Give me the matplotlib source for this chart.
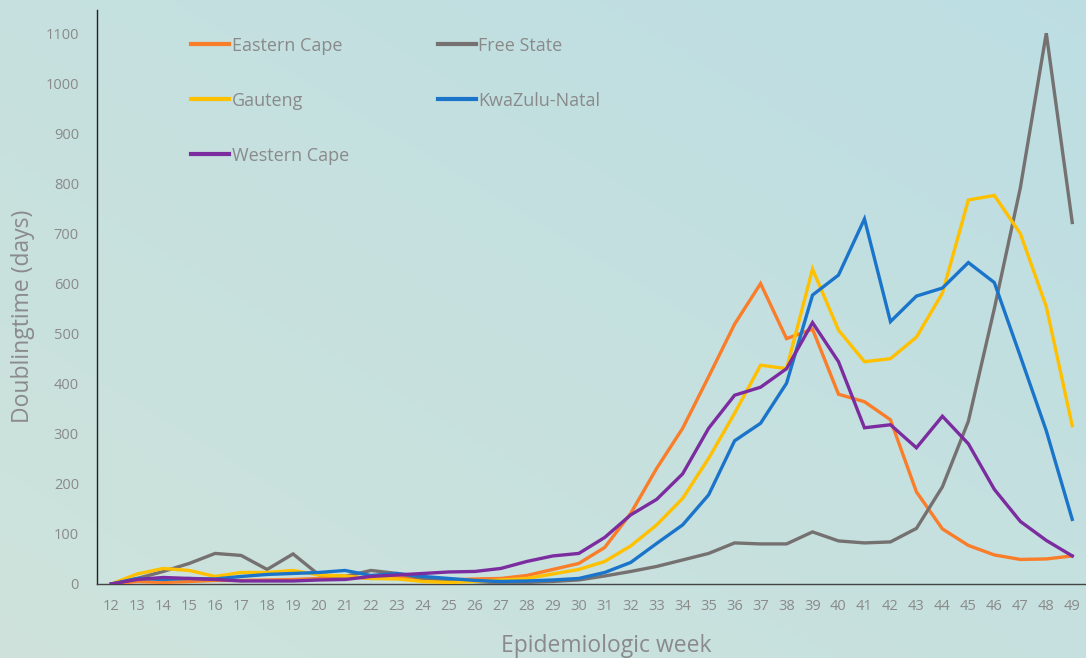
import numpy as np
import matplotlib
matplotlib.use("Agg")
from matplotlib import pyplot as plt

weeks = list(range(12, 50))

eastern_cape = [0, 5, 3, 5, 7, 7, 8, 9, 11, 15, 11, 13, 11, 8, 10,
                11, 17, 29, 41, 73, 141, 231, 311, 414, 519, 600, 490,
                509, 379, 364, 328, 184, 110, 77, 58, 49, 50, 56]
free_state = [0, 11, 25, 41, 61, 57, 29, 60, 18, 15, 27, 21, 11, 8, 5,
              2, 3, 5, 8, 16, 25, 35, 48, 61, 82, 80, 80,
              104, 86, 82, 84, 111, 194, 325, 550, 791, 1100, 722]
gauteng = [0, 20, 31, 27, 15, 23, 23, 27, 18, 16, 11, 10, 5, 3, 5,
           8, 11, 20, 29, 45, 76, 118, 171, 251, 341, 437, 430,
           629, 507, 444, 450, 493, 581, 767, 776, 700, 554, 316]
kwazulu_natal = [0, 11, 9, 11, 10, 15, 19, 21, 23, 27, 17, 21, 15, 11, 7,
                 5, 6, 8, 11, 23, 43, 81, 118, 178, 286, 321, 401,
                 577, 617, 729, 524, 575, 591, 642, 602, 455, 306, 129]
western_cape = [0, 9, 13, 11, 9, 6, 6, 6, 8, 9, 15, 18, 21, 24, 25,
                31, 45, 56, 61, 93, 138, 169, 220, 311, 377, 393, 430,
                522, 444, 312, 318, 272, 335, 280, 189, 125, 87, 56]

series = [("Eastern Cape", eastern_cape, "#FA7D2A"),
          ("Gauteng", gauteng, "#FFC000"),
          ("Western Cape", western_cape, "#7B2C9F"),
          ("Free State", free_state, "#767171"),
          ("KwaZulu-Natal", kwazulu_natal, "#1A75CA")]

plt.rcParams['font.family'] = ['Open Sans', 'DejaVu Sans']
txt = "#8a8a8a"

fig = plt.figure(figsize=(10.86, 6.58), dpi=100)

# background gradient
bg = fig.add_axes([0, 0, 1, 1], zorder=-1)
yy, xx = np.mgrid[0:1:200j, 0:1:200j]
t = np.clip(0.5 * xx + 0.5 * (1 - yy), 0, 1)
c0 = np.array([0.81, 0.89, 0.86])
c1 = np.array([0.74, 0.87, 0.89])
img = c0[None, None, :] * (1 - t[..., None]) + c1[None, None, :] * t[..., None]
bg.imshow(img, aspect="auto", extent=[0, 1, 0, 1], origin="upper")
bg.axis("off")

ax = fig.add_axes([0.0893, 0.1125, 0.91, 0.872])
ax.patch.set_alpha(0)
plot_order = ["Eastern Cape", "Free State", "Gauteng", "KwaZulu-Natal", "Western Cape"]
handles = {}
for name, vals, col in series:
    z = 3 + plot_order.index(name)
    h, = ax.plot(weeks, vals, color=col, lw=2.4, label=name, zorder=z,
                 solid_joinstyle="miter")
    handles[name] = h

ax.set_xlim(11.45, 49.5)
ax.set_ylim(0, 1146)
ax.set_xticks(weeks)
ax.set_xticklabels([str(w) for w in weeks])
ax.set_yticks(range(0, 1101, 100))
ax.tick_params(length=0, colors=txt, labelsize=10.5)
ax.tick_params(axis="x", pad=11)
ax.tick_params(axis="y", pad=13)
for s in ["top", "right"]:
    ax.spines[s].set_visible(False)
ax.spines["left"].set_color("#222222")
ax.spines["bottom"].set_color("#444444")
ax.spines["left"].set_linewidth(1.0)
ax.spines["bottom"].set_linewidth(1.0)

ax.set_xlabel("Epidemiologic week", color=txt, fontsize=16.5, labelpad=14)
ax.xaxis.label.set_x(0.515)
ax.set_ylabel("Doublingtime (days)", color=txt, fontsize=16.5)
ax.yaxis.set_label_coords(-0.063, 0.467)

leg = ax.legend([handles[n] for n, _, _ in series], [n for n, _, _ in series],
                ncol=2, loc="upper left", bbox_to_anchor=(0.079, 0.982),
                frameon=False, fontsize=13, labelcolor=txt,
                handlelength=2.1, handletextpad=0.15, labelspacing=2.05,
                columnspacing=4.9)
for line in leg.get_lines():
    line.set_linewidth(3)

fig.savefig("out.png", dpi=100)
